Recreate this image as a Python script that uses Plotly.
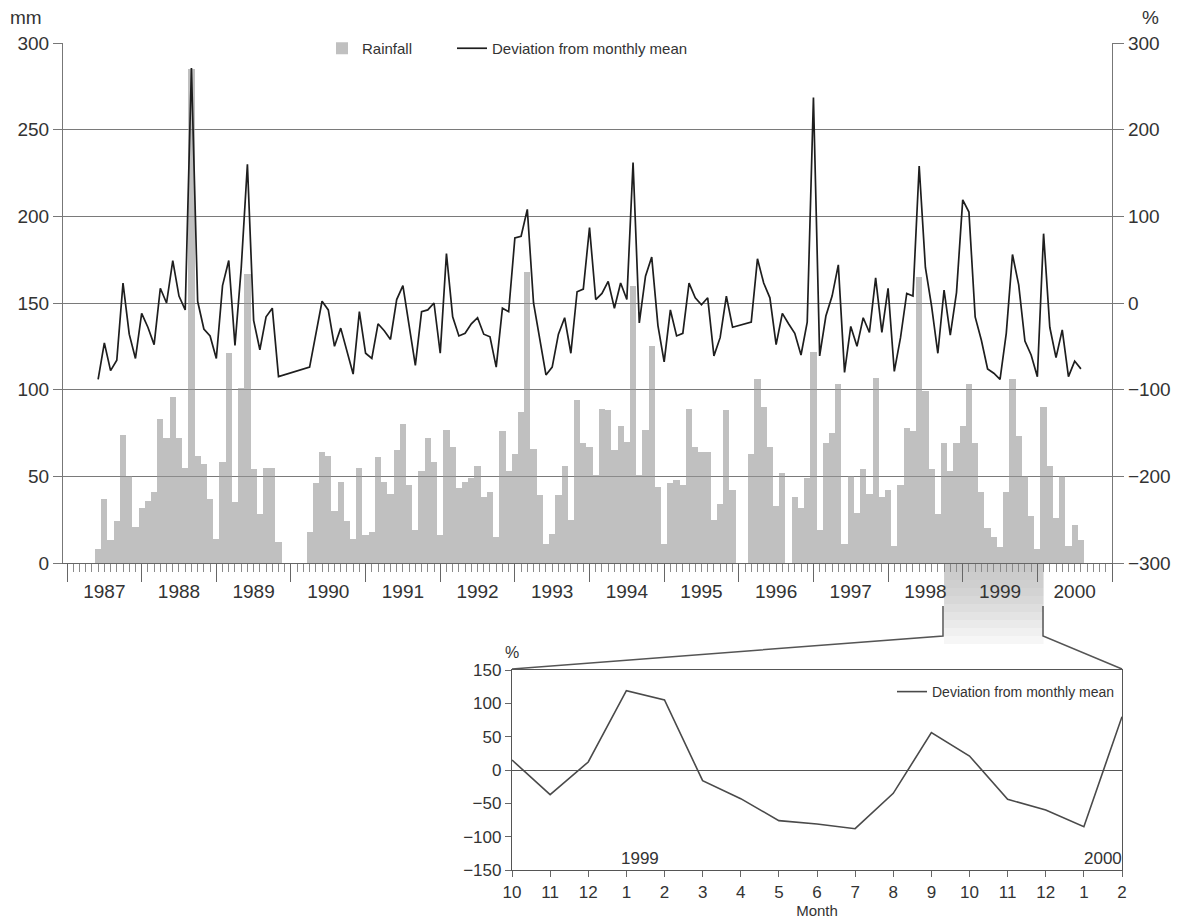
import plotly.graph_objects as go

W, H = 1188, 924


def px(x):
    return x / W


def py(y):
    return 1 - y / H


# ---------------- data (monthly, Jan..Dec) ----------------
years = list(range(1987, 2001))

rain_1987 = [None, None, None, None, None, 8, 37, 13, 24, 74, 50, 21]
rain_1988 = [32, 36, 41, 83, 72, 96, 72, 55, 285, 62, 57, 37]
rain_1989 = [14, 58, 121, 35, 101, 167, 54, 28, 55, 55, 12, None]
rain_1990 = [None, None, None, 18, 46, 64, 62, 30, 47, 24, 14, 55]
rain_1991 = [16, 18, 61, 47, 40, 65, 80, 45, 19, 53, 72, 58]
rain_1992 = [16, 77, 67, 43, 47, 49, 56, 38, 41, 15, 76, 53]
rain_1993 = [63, 87, 168, 66, 39, 11, 17, 39, 56, 25, 94, 69]
rain_1994 = [67, 51, 89, 88, 65, 79, 70, 160, 51, 77, 125, 44]
rain_1995 = [11, 46, 48, 45, 89, 67, 64, 64, 25, 34, 88, 42]
rain_1996 = [None, None, 63, 106, 90, 67, 33, 52, None, 38, 32, 49]
rain_1997 = [122, 19, 69, 75, 103, 11, 50, 29, 54, 40, 107, 38]
rain_1998 = [42, 10, 45, 78, 76, 165, 99, 54, 28, 69, 53, 69]
rain_1999 = [79, 103, 69, 41, 20, 15, 9, 41, 106, 73, 50, 27]
rain_2000 = [8, 90, 56, 26, 50, 10, 22, 13]

dev_1987 = [None, None, None, None, None, -88, -46, -78, -66, 23, -36, -64]
dev_1988 = [-12, -28, -48, 17, 0, 49, 8, -8, 271, 2, -30, -38]
dev_1989 = [-64, 20, 49, -49, 40, 160, -20, -54, -16, -6, -85, None]
dev_1990 = [None, None, None, -74, -36, 2, -8, -50, -29, -55, -82, -10]
dev_1991 = [-58, -64, -24, -32, -42, 4, 20, -26, -72, -10, -8, 0]
dev_1992 = [-58, 57, -16, -38, -35, -24, -17, -36, -39, -74, -6, -10]
dev_1993 = [75, 77, 108, 0, -44, -83, -74, -36, -17, -58, 13, 16]
dev_1994 = [87, 4, 11, 25, -6, 23, 4, 162, -23, 31, 53, -26]
dev_1995 = [-68, -8, -38, -35, 23, 6, -2, 6, -61, -40, 8, -28]
dev_1996 = [None, None, -22, 51, 23, 6, -48, -12, -24, -35, -60, -22]
dev_1997 = [237, -61, -15, 8, 44, -80, -27, -50, -17, -34, 29, -34]
dev_1998 = [17, -79, -40, 11, 8, 158, 41, -4, -58, 15, -37, 12]
dev_1999 = [119, 105, -16, -43, -76, -81, -88, -35, 56, 21, -44, -60]
dev_2000 = [-85, 80, -28, -63, -31, -85, -67, -76]

rain_by_year = [rain_1987, rain_1988, rain_1989, rain_1990, rain_1991, rain_1992, rain_1993,
                rain_1994, rain_1995, rain_1996, rain_1997, rain_1998, rain_1999, rain_2000]
dev_by_year = [dev_1987, dev_1988, dev_1989, dev_1990, dev_1991, dev_1992, dev_1993,
               dev_1994, dev_1995, dev_1996, dev_1997, dev_1998, dev_1999, dev_2000]

# inset: Oct 1998 .. Feb 2000
inset_labels = ["10", "11", "12", "1", "2", "3", "4", "5", "6", "7", "8", "9", "10", "11", "12", "1", "2"]
inset_dev = [15, -37, 12, 119, 105, -16, -43, -76, -81, -88, -35, 56, 21, -44, -60, -85, 80]

left_ticks = [0, 50, 100, 150, 200, 250, 300]
right_ticks = [-300, -200, -100, 0, 100, 200, 300]
inset_ticks = [-150, -100, -50, 0, 50, 100, 150]

# ---------------- build monthly series ----------------
xm, rain, dev = [], [], []
for yr, rv, dv in zip(years, rain_by_year, dev_by_year):
    for m in range(len(rv)):
        xm.append(yr + m / 12)
        rain.append(rv[m])
        dev.append(dv[m])

TXT = "#333333"
FONT = "Liberation Sans, Arial, Helvetica, sans-serif"

fig = go.Figure()

fig.add_trace(go.Bar(
    x=xm, y=rain, width=1 / 12, name="Rainfall",
    marker=dict(color="rgba(150,150,150,0.6)", line=dict(width=0)),
    xaxis="x", yaxis="y", showlegend=True, legend="legend",
))
fig.add_trace(go.Scatter(
    x=xm, y=dev, mode="lines", name="Deviation from monthly mean",
    line=dict(color="#1e1e1e", width=1.7), connectgaps=True,
    xaxis="x2", yaxis="y2", legend="legend3",
))
fig.add_trace(go.Scatter(
    x=list(range(len(inset_dev))), y=inset_dev, mode="lines",
    name="Deviation from monthly mean",
    line=dict(color="#4a4a4a", width=1.6),
    xaxis="x3", yaxis="y3", legend="legend2",
))

x0, x1 = 1986.946, 2001.0
main_dom_x = [px(63), px(1112)]
main_dom_y = [py(563), py(43)]

minor_vals = [1987 + k / 12 for k in range(0, 14 * 12 + 1)]

fig.update_layout(
    template="none",
    width=W, height=H, autosize=False,
    margin=dict(l=0, r=0, t=0, b=0, pad=0),
    paper_bgcolor="white", plot_bgcolor="rgba(0,0,0,0)",
    font=dict(family=FONT, color=TXT),
    bargap=0,
    xaxis=dict(
        domain=main_dom_x, range=[x0, x1], anchor="y", automargin=False,
        tickmode="array", tickvals=years + [2001], showticklabels=False,
        ticks="outside", ticklen=18, tickwidth=1.2, tickcolor="#666666",
        minor=dict(tickmode="array", tickvals=minor_vals, ticks="outside",
                   ticklen=8, tickwidth=1, tickcolor="#8a8a8a", showgrid=False),
        showline=True, linecolor="#666666", linewidth=1.3,
        showgrid=False, zeroline=False,
    ),
    xaxis2=dict(
        domain=main_dom_x, range=[x0, x1], overlaying="x", anchor="y", automargin=False,
        tickmode="array", tickvals=[y + 0.5 for y in years], ticktext=[str(y) for y in years],
        ticks="outside", ticklen=11, tickcolor="rgba(0,0,0,0)",
        tickfont=dict(size=19, color=TXT),
        showline=False, showgrid=False, zeroline=False,
    ),
    yaxis=dict(
        domain=main_dom_y, range=[0, 300], anchor="x", automargin=False,
        tickmode="array", tickvals=left_ticks,
        ticks="outside", ticklen=9, tickcolor="#777777",
        tickfont=dict(size=19, color=TXT),
        showline=True, linecolor="#777777", linewidth=1.2,
        showgrid=True, gridcolor="#7a7a7a", gridwidth=1.1, zeroline=False,
    ),
    yaxis2=dict(
        domain=main_dom_y, range=[-300, 300], overlaying="y", side="right", anchor="x2",
        automargin=False,
        tickmode="array", tickvals=right_ticks,
        ticks="outside", ticklen=11, tickcolor="#777777",
        tickfont=dict(size=19, color=TXT),
        showline=True, linecolor="#777777", linewidth=1.2,
        showgrid=False, zeroline=False,
    ),
    xaxis3=dict(
        domain=[px(512), px(1122)], range=[0, 16], anchor="y3", automargin=False,
        tickmode="array", tickvals=list(range(len(inset_labels))), ticktext=inset_labels,
        ticks="outside", ticklen=6, tickcolor="#666666",
        tickfont=dict(size=17, color=TXT),
        showline=True, mirror=True, linecolor="#555555", linewidth=1.3,
        showgrid=False, zeroline=False,
        title=dict(text="Month", font=dict(size=15, color=TXT), standoff=2),
    ),
    yaxis3=dict(
        domain=[py(870), py(670)], range=[-150, 150], anchor="x3", automargin=False,
        tickmode="array", tickvals=inset_ticks,
        ticks="outside", ticklen=6, tickcolor="#666666",
        tickfont=dict(size=17, color=TXT),
        showline=True, mirror=True, linecolor="#555555", linewidth=1.3,
        showgrid=False, zeroline=True, zerolinecolor="#555555", zerolinewidth=1.2,
    ),
    legend=dict(
        orientation="h", x=px(322), y=py(32), xanchor="left", yanchor="top",
        font=dict(size=15, color=TXT), bgcolor="rgba(0,0,0,0)",
    ),
    legend3=dict(
        orientation="h", x=px(452), y=py(32), xanchor="left", yanchor="top",
        font=dict(size=15, color=TXT), bgcolor="rgba(0,0,0,0)",
    ),
    legend2=dict(
        orientation="h", x=px(1120), y=py(676), xanchor="right", yanchor="top",
        font=dict(size=14, color=TXT), bgcolor="rgba(0,0,0,0)",
    ),
)

# axis unit labels and inset year labels
fig.add_annotation(text="mm", x=px(8), y=py(18), xref="paper", yref="paper",
                   xanchor="left", yanchor="middle", showarrow=False,
                   font=dict(size=19, color=TXT))
fig.add_annotation(text="%", x=px(1140), y=py(18), xref="paper", yref="paper",
                   xanchor="left", yanchor="middle", showarrow=False,
                   font=dict(size=19, color=TXT))
fig.add_annotation(text="%", x=px(512), y=py(652), xref="paper", yref="paper",
                   xanchor="center", yanchor="middle", showarrow=False,
                   font=dict(size=16, color=TXT))
fig.add_annotation(text="1999", x=3.35, y=-133, xref="x3", yref="y3",
                   showarrow=False, font=dict(size=17, color=TXT))
fig.add_annotation(text="2000", x=15.5, y=-133, xref="x3", yref="y3",
                   showarrow=False, font=dict(size=17, color=TXT))

# zoom region shading (gradient imitation) below the main axis
zx0, zx1 = 1998 + 9 / 12, 2000 + 1 / 12
shade = ["#c9c9c9", "#cccccc", "#cfcfcf", "#d3d3d3", "#d8d8d8", "#dedede",
         "#e4e4e4", "#eaeaea", "#f0f0f0", "#f6f6f6"]
top, step = 564, 8
for i, c in enumerate(shade):
    fig.add_shape(type="rect", xref="x", yref="paper",
                  x0=zx0, x1=zx1, y0=py(top + (i + 1) * step), y1=py(top + i * step),
                  fillcolor=c, line=dict(width=0), layer="below")

# connector lines to inset
fig.add_shape(type="path", xref="paper", yref="paper",
              path=f"M {px(943)} {py(606)} L {px(943)} {py(636)} L {px(512)} {py(669)}",
              line=dict(color="#555555", width=1.5))
fig.add_shape(type="path", xref="paper", yref="paper",
              path=f"M {px(1043)} {py(606)} L {px(1043)} {py(636)} L {px(1122)} {py(669)}",
              line=dict(color="#555555", width=1.5))

fig.write_html("out.html")
